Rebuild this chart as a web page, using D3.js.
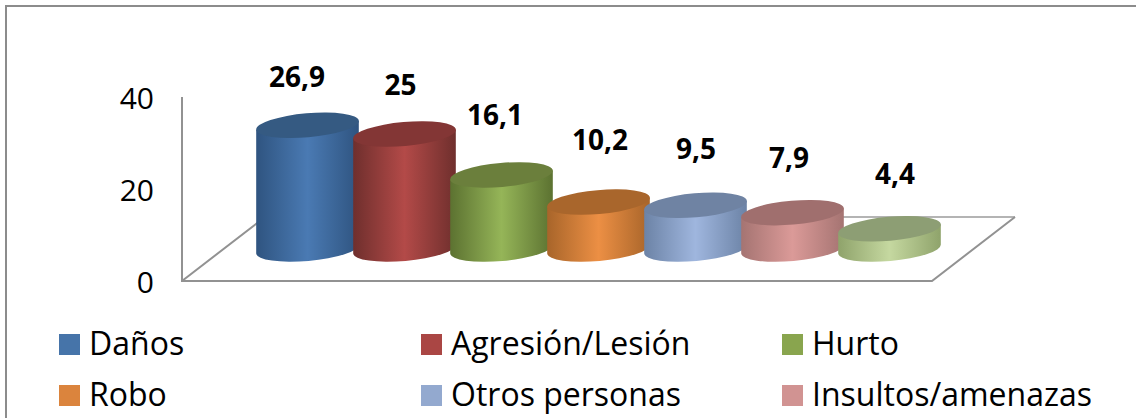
<!DOCTYPE html>
<html>
<head>
<meta charset="utf-8">
<script src="https://cdn.jsdelivr.net/npm/d3@7"></script>
<style>
    html, body { margin: 0; padding: 0; background: #fff; overflow: hidden; }
    text { font-family: "Open Sans", Lato, sans-serif; fill: #000; }
</style>
</head>
<body>
<svg id="drawing_region" width="1136" height="418"></svg>
<script>
const categories = ["Daños", "Agresión/Lesión", "Hurto", "Robo", "Otros personas", "Insultos/amenazas", "Otros"];
const values = [26.9, 25, 16.1, 10.2, 9.5, 7.9, 4.4];
const valueLabels = ["26,9", "25", "16,1", "10,2", "9,5", "7,9", "4,4"];
const tickValues = [0, 20, 40];
const bodyEdge = ["#2f5480", "#6f2f2d", "#5c7231", "#a8652a", "#6c83a6", "#a57472", "#8fa36b"];
const bodyMid = ["#4a7ab3", "#b34a48", "#95b558", "#ec8f44", "#9fb6de", "#db9a98", "#c5d8a0"];
const topFill = ["#355a82", "#833635", "#6b7f3c", "#a9662c", "#6f83a3", "#a06f6e", "#8d9e74"];
const legendFill = ["#4674a9", "#aa4644", "#89a54e", "#db843d", "#93a9cf", "#d19392"];

// data labels were placed by hand in the original, so each has its own nudge
const labelDx = [-10.5, -4, -6.5, 1.5, 0.5, -3.5, 5.5];
const labelDy = [-38, -39, -50, -52, -46, -45, -45];

const svg = d3.select("#drawing_region");
const defs = svg.append("defs");

const y = d3.scaleLinear().domain([0, 40]).range([281, 97]);
const x = d3.scaleBand().domain(categories).range([259, 938]);
const depthY = 32;       // floor depth, bars stand this far behind the front axis
const rx = 51.5, ry = 12, tilt = 5;
const dx = rx * Math.cos(tilt * Math.PI / 180);
const dy = rx * Math.sin(tilt * Math.PI / 180);

// chart frame
svg.append("path")
    .attr("d", "M6,418V6H1136")
    .attr("fill", "none")
    .attr("stroke", "#8c8c8c")
    .attr("stroke-width", 2);

// floor
svg.append("path")
    .attr("d", "M1015,217H265")
    .attr("fill", "none")
    .attr("stroke", "#b4b4b4")
    .attr("stroke-width", 2);
svg.append("path")
    .attr("d", "M182,97V281H932L1015,217M182,281L265,217")
    .attr("fill", "none")
    .attr("stroke", "#929292")
    .attr("stroke-width", 2);

// y axis labels
const yAxis = d3.axisLeft(y).tickValues(tickValues).tickSize(0).tickPadding(28);
svg.append("g")
    .attr("transform", "translate(182,2)")
    .call(yAxis)
    .call(g => g.select(".domain").remove())
    .selectAll("text")
    .attr("font-size", 30)
    .attr("font-family", "Open Sans")
    .attr("fill", "#000");

// gradients
categories.forEach((c, i) => {
    const g = defs.append("linearGradient").attr("id", "grad" + i);
    g.append("stop").attr("offset", "0%").attr("stop-color", bodyEdge[i]);
    g.append("stop").attr("offset", "50%").attr("stop-color", bodyMid[i]);
    g.append("stop").attr("offset", "100%").attr("stop-color", bodyEdge[i]);
});

// cylinders, left to right so that each one covers the previous
const bars = svg.selectAll("g.bar")
    .data(categories)
    .enter()
    .append("g")
    .attr("class", "bar");

bars.append("path")
    .attr("fill", (d, i) => `url(#grad${i})`)
    .attr("d", (d, i) => {
        const cx = x(d) + x.bandwidth() / 2;
        const top = y(values[i]) - depthY;
        const bot = y(0) - depthY;
        return `M${cx - dx},${top + dy}L${cx - dx},${bot + dy}`
            + `A${rx},${ry} ${-tilt} 0 0 ${cx + dx},${bot - dy}`
            + `L${cx + dx},${top - dy}Z`;
    });

bars.append("ellipse")
    .attr("rx", rx)
    .attr("ry", ry)
    .attr("fill", (d, i) => topFill[i])
    .attr("transform", (d, i) => {
        const cx = x(d) + x.bandwidth() / 2;
        return `translate(${cx},${y(values[i]) - depthY}) rotate(${-tilt})`;
    });

// value labels
svg.selectAll("text.value")
    .data(categories)
    .enter()
    .append("text")
    .attr("class", "value")
    .attr("x", (d, i) => x(d) + x.bandwidth() / 2 + labelDx[i])
    .attr("y", (d, i) => y(values[i]) - depthY + labelDy[i])
    .attr("text-anchor", "middle")
    .attr("font-size", 28)
    .attr("font-weight", 700)
    .text((d, i) => valueLabels[i]);

// legend, three columns, third row falls outside the window
const legendCols = [59, 421, 782];
const legendRows = [334, 385];
const legend = svg.selectAll("g.legend")
    .data(legendFill)
    .enter()
    .append("g")
    .attr("class", "legend")
    .attr("transform", (d, i) => `translate(${legendCols[i % 3]},${legendRows[Math.floor(i / 3)]})`);

legend.append("rect")
    .attr("width", 21)
    .attr("height", 21)
    .attr("fill", d => d);

legend.append("text")
    .attr("x", 30)
    .attr("y", 20.5)
    .attr("font-size", 32)
    .text((d, i) => categories[i]);
</script>
</body>
</html>
